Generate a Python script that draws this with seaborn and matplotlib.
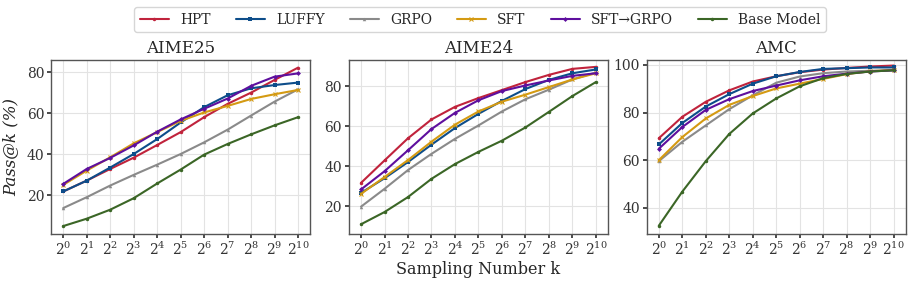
import matplotlib
matplotlib.use("Agg")
import matplotlib.pyplot as plt
import numpy as np
import pandas as pd
import seaborn as sns

sns.set_theme(style="whitegrid")
plt.rcParams.update({
    'font.family': ['DejaVu Serif'],
    'mathtext.fontset': 'dejavuserif',
    'axes.edgecolor': '#555555',
    'axes.linewidth': 1.0,
    'grid.color': '#e3e3e3',
    'grid.linewidth': 0.8,
    'xtick.bottom': True,
    'ytick.left': True,
    'xtick.major.size': 3,
    'ytick.major.size': 3,
    'xtick.color': '#333333',
    'ytick.color': '#333333',
})

# sampling number k = 2^0 .. 2^10
exponents = list(range(11))
ks = [2 ** e for e in exponents]

methods = ['HPT', 'LUFFY', 'GRPO', 'SFT', 'SFT→GRPO', 'Base Model']
colors = ['#c0233c', '#0d4d8a', '#8a8a8a', '#d49a12', '#5e0f9e', '#3b6626']
markers = ['o', 's', '^', 'x', 'D', 'o']

# AIME25
aime25_hpt = [21.8, 27.1, 32.8, 38.3, 44.5, 50.8, 58.1, 64.6, 70.1, 76.3, 82.3]
aime25_luffy = [21.8, 27.1, 33.5, 40.1, 47.4, 55.5, 63.0, 68.8, 72.2, 73.8, 75.0]
aime25_grpo = [13.7, 19.0, 24.7, 29.9, 34.9, 40.1, 45.8, 52.0, 58.9, 65.7, 71.7]
aime25_sft = [25.0, 32.0, 38.5, 45.3, 50.8, 56.3, 60.4, 63.6, 67.0, 69.3, 71.4]
aime25_sftgrpo = [25.5, 32.8, 38.2, 44.3, 51.0, 57.0, 62.2, 67.2, 73.4, 77.9, 79.5]
aime25_base = [4.9, 8.5, 12.9, 18.5, 25.7, 32.5, 39.8, 45.0, 49.7, 54.1, 58.1]

# AIME24
aime24_hpt = [31.6, 42.8, 53.9, 63.3, 69.6, 74.0, 78.0, 82.0, 85.6, 88.6, 89.6]
aime24_luffy = [26.6, 33.9, 42.0, 50.7, 59.0, 66.1, 72.6, 78.5, 83.1, 86.4, 88.3]
aime24_grpo = [19.7, 28.6, 38.0, 46.1, 53.6, 60.3, 67.3, 73.4, 78.2, 83.3, 86.8]
aime24_sft = [26.1, 34.5, 43.0, 52.2, 60.7, 67.3, 72.2, 75.7, 79.5, 83.3, 86.4]
aime24_sftgrpo = [28.3, 37.4, 47.9, 58.5, 66.6, 72.9, 77.5, 80.3, 82.8, 85.1, 86.4]
aime24_base = [10.9, 17.0, 24.5, 33.6, 41.0, 47.1, 52.7, 59.3, 67.1, 75.0, 82.0]

# AMC
amc_hpt = [69.2, 78.2, 84.5, 89.3, 93.0, 95.2, 96.9, 98.0, 98.7, 99.3, 99.7]
amc_luffy = [66.6, 75.6, 82.5, 87.7, 92.1, 95.2, 97.0, 98.3, 98.6, 98.9, 98.9]
amc_grpo = [59.6, 67.7, 74.6, 81.4, 87.2, 92.5, 95.1, 96.5, 97.2, 97.5, 97.7]
amc_sft = [60.0, 69.7, 77.5, 83.2, 86.9, 90.1, 92.1, 94.1, 96.1, 97.3, 97.9]
amc_sftgrpo = [64.8, 73.9, 81.1, 85.6, 89.0, 91.3, 93.5, 95.2, 96.3, 97.2, 97.7]
amc_base = [32.5, 46.8, 59.6, 71.0, 79.6, 85.9, 91.0, 94.4, 96.2, 97.2, 97.7]

benchmarks = {
    'AIME25': [aime25_hpt, aime25_luffy, aime25_grpo, aime25_sft, aime25_sftgrpo, aime25_base],
    'AIME24': [aime24_hpt, aime24_luffy, aime24_grpo, aime24_sft, aime24_sftgrpo, aime24_base],
    'AMC': [amc_hpt, amc_luffy, amc_grpo, amc_sft, amc_sftgrpo, amc_base],
}
yticks = {
    'AIME25': [20, 40, 60, 80],
    'AIME24': [20, 40, 60, 80],
    'AMC': [40, 60, 80, 100],
}

fig, axes = plt.subplots(1, 3, figsize=(9.13, 2.82), dpi=100)
fig.subplots_adjust(left=0.056, right=0.992, top=0.787, bottom=0.17, wspace=0.15)

for ax, (name, series) in zip(axes, benchmarks.items()):
    for method, vals, c, m in zip(methods, series, colors, markers):
        df = pd.DataFrame({'k': ks, 'pass': vals})
        ms = 2.5 if m != 'x' else 3.5
        sns.lineplot(data=df, x='k', y='pass', ax=ax, color=c, marker=m,
                     markersize=ms, markeredgewidth=0.8 if m == 'x' else 0,
                     markeredgecolor=c, linewidth=1.5, label=method, legend=False)
    ax.set_xscale('log', base=2)
    ax.set_xticks(ks)
    ax.set_xticklabels([f'$2^{{{e}}}$' for e in exponents])
    ax.minorticks_off()
    ax.set_yticks(yticks[name])
    ax.tick_params(axis='both', labelsize=10, pad=2)
    ax.set_title(name, fontsize=12, pad=5)
    ax.set_xlabel('')
    ax.set_ylabel('')
    ax.set_xlim(0.7, 1460)

axes[0].set_ylim(1, 86)
axes[1].set_ylim(6, 93)
axes[2].set_ylim(29, 102)

axes[0].set_ylabel('Pass@k (%)', fontsize=12, style='italic', labelpad=5)
axes[1].set_xlabel('Sampling Number k', fontsize=11.5, labelpad=2)

handles, labels = axes[0].get_legend_handles_labels()
fig.legend(handles, labels, loc='upper center', ncol=6, bbox_to_anchor=(0.526, 1.0),
           fontsize=10, frameon=True, edgecolor='#cccccc', handlelength=2.1,
           columnspacing=1.8, borderpad=0.4)

fig.savefig('out.png', dpi=100)
